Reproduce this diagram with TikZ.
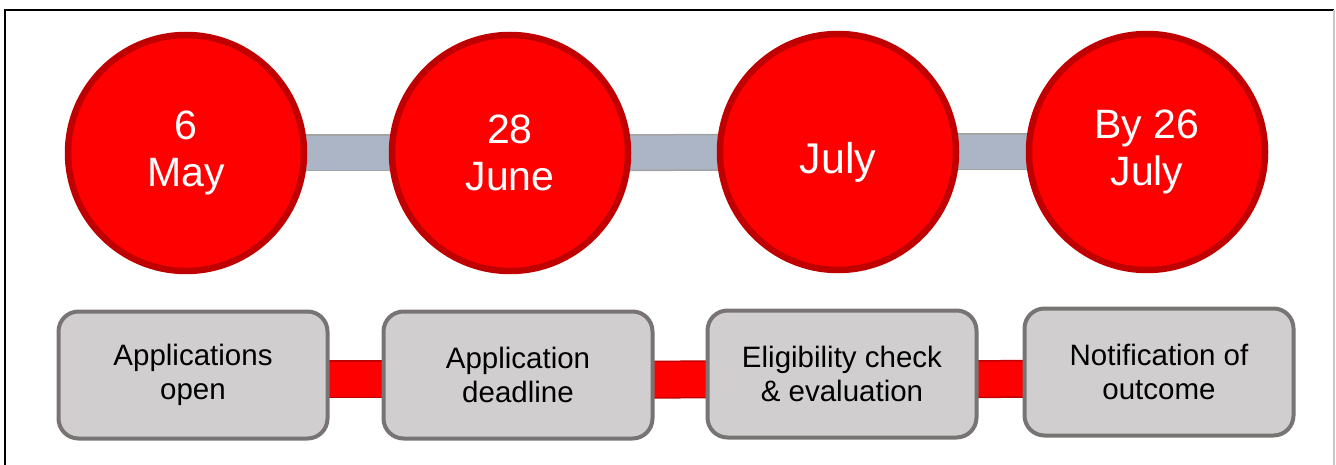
\documentclass[tikz,border=0pt]{standalone}
\usepackage{fontspec}
\setmainfont{Liberation Sans}
\usetikzlibrary{backgrounds}
\definecolor{datered}{HTML}{FF0000}
\definecolor{darkred}{HTML}{C00000}
\definecolor{bargray}{HTML}{ABB5C6}
\definecolor{baredge}{HTML}{A3A3A3}
\definecolor{boxfill}{HTML}{D0CECF}
\definecolor{boxedge}{HTML}{787474}
\definecolor{frameedge}{HTML}{C8C8C8}
\begin{document}
\begin{tikzpicture}[x=1pt,y=-1pt,
  datecirc/.style={circle, fill=datered, draw=darkred, line width=6.5pt, minimum size=236pt, inner sep=0pt, align=center, text=white, font=\fontsize{41}{47}\selectfont},
  eventbox/.style={rectangle, rounded corners=20pt, fill=boxfill, draw=boxedge, line width=4pt, minimum width=269pt, minimum height=127pt, align=center, font=\fontsize{29.5}{34}\selectfont},
  datebar/.style={draw=baredge, line width=1.5pt, double=bargray, double distance=34pt},
  eventbar/.style={draw=darkred, line width=1.5pt, double=datered, double distance=35pt}]
\useasboundingbox (0,0) rectangle (1336,465);
% frame
\draw[line width=2pt] (5,465) -- (5,10) -- (1334,10);
\draw[frameedge, line width=1.5pt] (1334,10) -- (1334,465);
% dates
\node[datecirc] (date1) at (186,153){6\\May};
\node[datecirc] (date2) at (510,153){28\\June};
\node[datecirc] (date3) at (838,152){\raisebox{-10pt}[\height][\depth]{\fontsize{43}{47}\selectfont July}};
\node[datecirc] (date4) at (1147,152){By 26\\July};
% events
\node[eventbox] (box1) at (193,375){Applications\\open};
\node[eventbox] (box2) at (518,375){Application\\deadline};
\node[eventbox] (box3) at (842,374){Eligibility check\\\& evaluation};
\node[eventbox] (box4) at (1159,372){Notification of\\outcome};
% bars
\begin{scope}[on background layer]
\fill[white] (0,0) rectangle (1336,465);
\draw[datebar](date1.center) -- (date2.center);
\draw[datebar](date2.center) -- (date3.center);
\draw[datebar](date3.center) -- (date4.center);
\draw[eventbar]([yshift=-4pt]box1.center) -- ([yshift=-4pt]box2.center);
\draw[eventbar]([yshift=-5pt]box2.center) -- ([yshift=-5pt]box3.center);
\draw[eventbar]([yshift=-6pt]box3.center) -- ([yshift=-6pt]box4.center);
\end{scope}
\end{tikzpicture}
\end{document}
